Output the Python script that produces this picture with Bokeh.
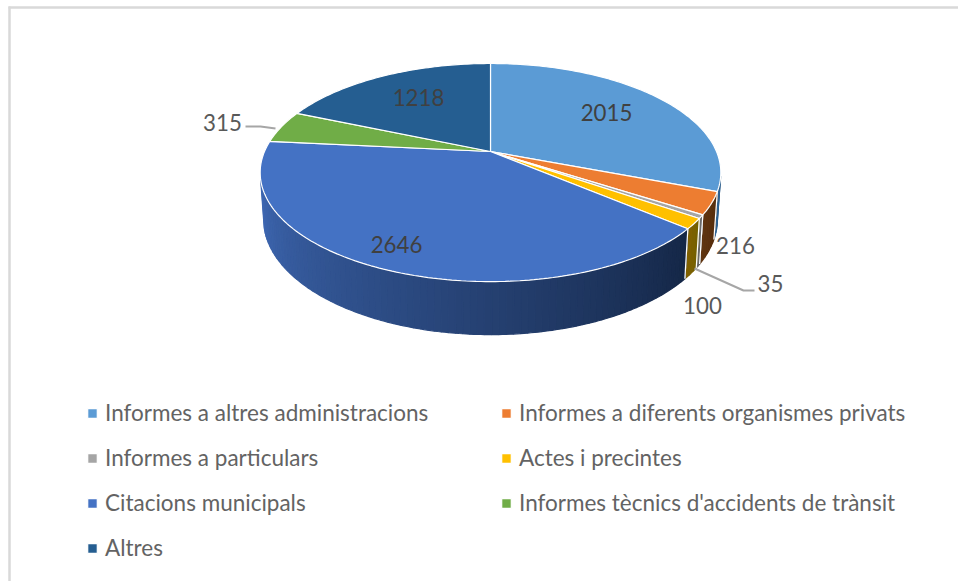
import numpy as np
from bokeh.plotting import figure
from bokeh.models import Range1d, Legend, LegendItem
from bokeh.core.properties import value
from bokeh.embed import file_html
from bokeh.resources import INLINE

categories = ["Informes a altres administracions", "Informes a diferents organismes privats",
              "Informes a particulars", "Actes i precintes", "Citacions municipals",
              "Informes tècnics d'accidents de trànsit", "Altres"]
values = [2015, 216, 35, 100, 2646, 315, 1218]
colors = ["#5b9bd5", "#ed7d31", "#a5a5a5", "#ffc000", "#4472c4", "#70ad47", "#255e91"]
wall_left = ["#2f6496", "#5f3410", "#6b6b6b", "#7f6000", "#3d66b0", "#46702c", "#183d5e"]
wall_right = ["#2a5b88", "#552d0c", "#5c5c5c", "#756000", "#152747", "#46702c", "#183d5e"]

FONT = "Lato"
LW, LH = 958, 581
CX, CY, A, B, K = 490.0, 151.0, 226.0, 105.0, 0.193


def top(theta):
    t = np.radians(theta)
    w = 1 + K * np.cos(t)
    return CX + A * np.sin(t) / w, CY - B * np.cos(t) / w


def bottom(theta):
    x, y = top(theta)
    return CX + (x - CX) * 0.985, CY + 45.6 + (y - CY) * 1.057


def hex2rgb(h):
    return np.array([int(h[i:i + 2], 16) for i in (1, 3, 5)], dtype=float)


def mix(a, b, f):
    c = hex2rgb(a) * (1 - f) + hex2rgb(b) * f
    return "#%02x%02x%02x" % tuple(int(round(v)) for v in c)


p = figure(width=LW, height=LH, output_backend="svg", toolbar_location=None,
           x_range=Range1d(0, LW), y_range=Range1d(LH, 0),
           min_border=0, outline_line_color=None, background_fill_color="white",
           border_fill_color="white")
p.axis.visible = False
p.grid.visible = False

# chart frame
p.line([9, 9], [6, 581], line_color="#d9d9d9", line_width=2.5)
p.line([8, 958], [7, 7], line_color="#d9d9d9", line_width=2.5)

edges = np.concatenate([[0], np.cumsum(values)]) / sum(values) * 360.0
VIS0, VIS1 = 103.0, 255.0

# side walls
for i in range(len(values)):
    a0, a1 = max(edges[i], VIS0), min(edges[i + 1], VIS1)
    if a1 <= a0:
        continue
    n = max(2, int((a1 - a0) / 1.5))
    th = np.linspace(a0, a1, n + 1)
    xs, ys, cs = [], [], []
    for j in range(n):
        tt = np.linspace(th[j], th[j + 1], 3)
        tx, ty = top(tt)
        bx, by = bottom(tt)
        xs.append(np.concatenate([tx, bx[::-1]]))
        ys.append(np.concatenate([ty, by[::-1]]))
        # darker towards the right of the picture
        cs.append(mix(wall_right[i], wall_left[i], j / max(1, n - 1)))
    p.patches(xs, ys, fill_color=cs, line_color=cs, line_width=1.2)
    for a in (a0, a1):
        if VIS0 < a < VIS1:
            tx, ty = top(a)
            bx, by = bottom(a)
            p.line([tx, bx], [ty, by], line_color="white", line_width=1.2)

# top faces
items = []
for i, name in enumerate(categories):
    th = np.linspace(edges[i], edges[i + 1], max(3, int(edges[i + 1] - edges[i]) + 2))
    tx, ty = top(th)
    r = p.patch(np.concatenate([[CX], tx]), np.concatenate([[CY], ty]),
                fill_color=colors[i], line_color="white", line_width=1.2)
    items.append(LegendItem(label=name, renderers=[r]))

legend = Legend(items=items, orientation="horizontal", ncols=2, location=(86, 20),
                glyph_width=12, glyph_height=12, label_standoff=7,
                spacing=18, margin=0, padding=0, border_line_color=None,
                background_fill_alpha=0, label_text_font=FONT,
                label_text_font_size="22.5px", label_text_color="#636363",
                label_height=24, label_width=377)
p.add_layout(legend, "center")

# leader lines
p.line([245, 260, 275], [126, 126, 128], line_color="#a6a6a6", line_width=2)
p.line([694, 743, 754], [268, 290, 290], line_color="#a6a6a6", line_width=2)

# data labels
label_x = [606, 735, 770, 702, 396, 222, 418]
label_y = [112, 245, 283, 305, 244, 122, 97]
label_c = ["#404040", "#595959", "#595959", "#595959", "#404040", "#595959", "#404040"]
p.text(label_x, label_y, text=[str(v) for v in values], text_font=value(FONT),
       text_font_size="22.3px", text_color=label_c, text_align="center",
       text_baseline="middle")

open("out.html", "w").write(file_html(p, INLINE))
